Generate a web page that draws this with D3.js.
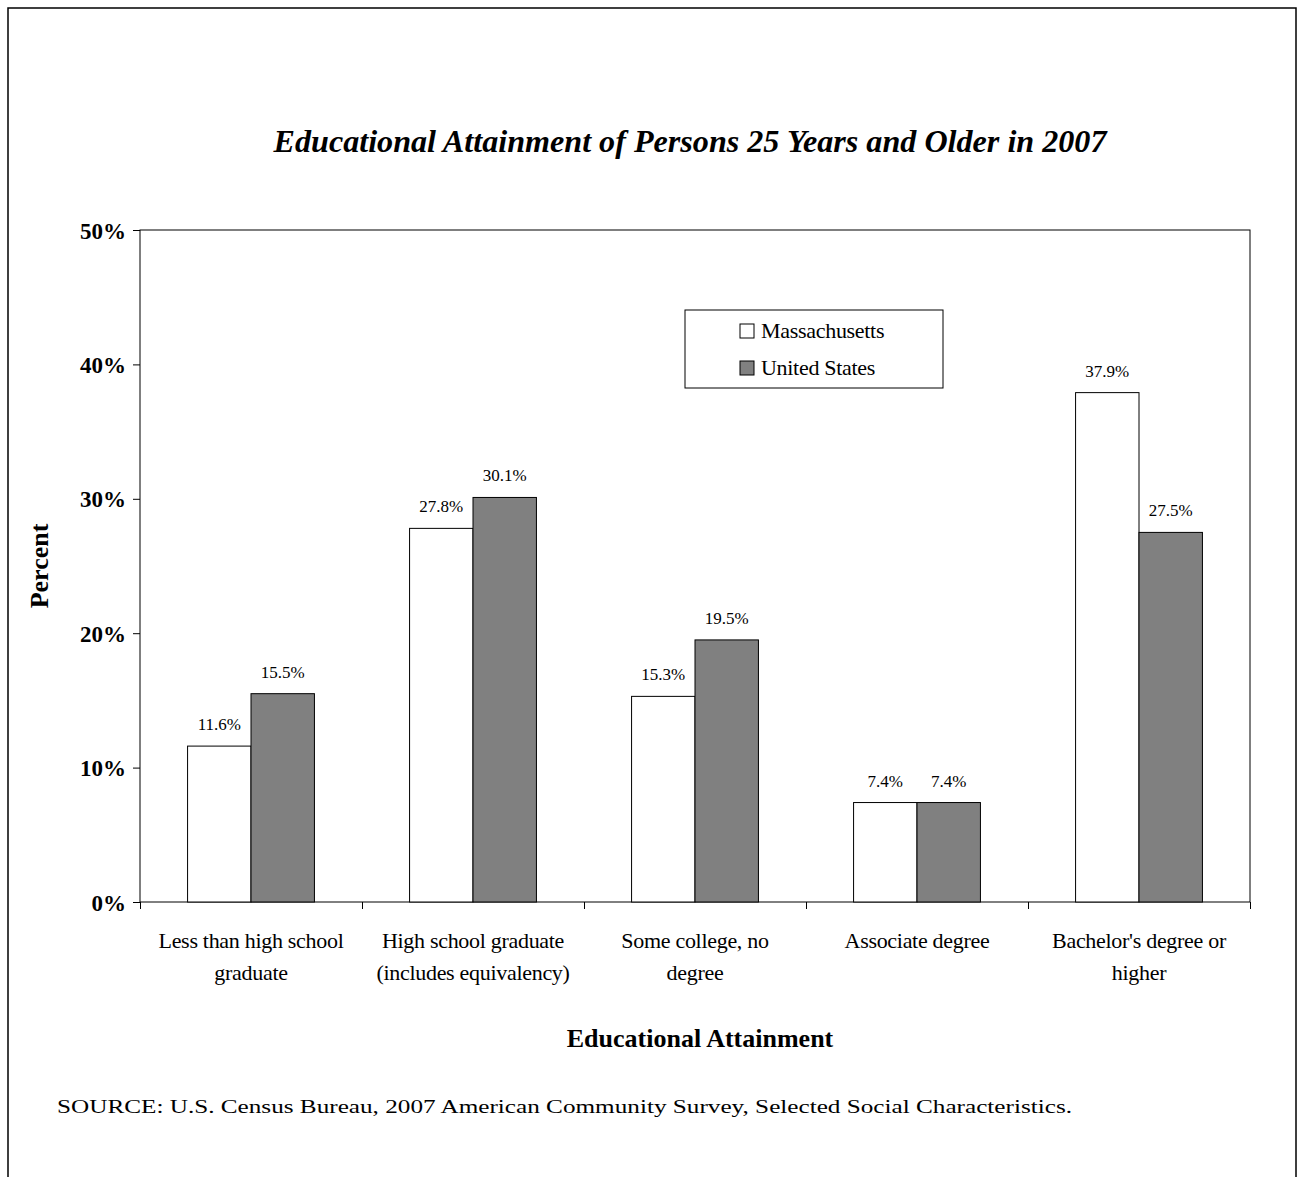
<!DOCTYPE html>
<html><head><meta charset="utf-8">
<script src="https://cdn.jsdelivr.net/npm/d3@7"></script>
<style>body{margin:0;background:#fff}svg{font-family:"Liberation Serif","Times New Roman",serif}</style>
</head><body><div id="chart"></div>
<script>
const categories = [
  ['Less than high school', 'graduate'],
  ['High school graduate', '(includes equivalency)'],
  ['Some college, no', 'degree'],
  ['Associate degree'],
  ["Bachelor's degree or", 'higher']
]
const seriesNames = ['Massachusetts', 'United States']
const massachusetts = [11.6, 27.8, 15.3, 7.4, 37.9]
const unitedStates = [15.5, 30.1, 19.5, 7.4, 27.5]
const yTicks = [0, 10, 20, 30, 40, 50]
const colors = ['#ffffff', '#808080']

const W = 1304, H = 1177
const margin = { top: 230, left: 140, right: 54, bottom: 275 }
const width = W - margin.left - margin.right
const height = H - margin.top - margin.bottom

const svg = d3.select('#chart').append('svg').attr('width', W).attr('height', H)
svg.append('path').attr('d', `M8,${H}V8H1296V${H}`).attr('fill', 'none').attr('stroke', '#000').attr('stroke-width', 1.5)

svg.append('text').attr('x', 690).attr('y', 152).attr('text-anchor', 'middle')
  .style('font-size', '32px').style('font-weight', 'bold').style('font-style', 'italic')
  .attr('textLength', 833).attr('lengthAdjust', 'spacingAndGlyphs')
  .text('Educational Attainment of Persons 25 Years and Older in 2007')

const g = svg.append('g').attr('transform', `translate(${margin.left},${margin.top})`)
const x = d3.scaleBand().domain(d3.range(categories.length)).range([0, width])
const xs = d3.scaleBand().domain([0, 1]).range([0, x.bandwidth()]).paddingOuter(0.75).paddingInner(0)
const y = d3.scaleLinear().domain([0, 50]).range([height, 0])

g.append('rect').attr('width', width).attr('height', height).attr('fill', 'none').attr('stroke', '#000')

const data = categories.map((c, i) => [massachusetts[i], unitedStates[i]])
const groups = g.selectAll('.grp').data(data).join('g').attr('transform', (d, i) => `translate(${x(i)},0)`)
groups.selectAll('rect').data(d => d).join('rect')
  .attr('x', (d, j) => xs(j)).attr('width', xs.bandwidth())
  .attr('y', d => y(d)).attr('height', d => height - y(d))
  .attr('fill', (d, j) => colors[j]).attr('stroke', '#000')
groups.selectAll('text').data(d => d).join('text')
  .attr('x', (d, j) => xs(j) + xs.bandwidth() / 2).attr('y', d => y(d) - 16)
  .attr('text-anchor', 'middle').style('font-size', '17px').text(d => d.toFixed(1) + '%')

const ya = g.append('g').call(d3.axisLeft(y).tickValues(yTicks).tickSize(7).tickFormat(d => d + '%'))
ya.attr('font-family', null)
ya.select('.domain').remove()
ya.selectAll('text').style('font-size', '23px').style('font-weight', 'bold').attr('dy', '0.35em').attr('x', -14)

const xa = g.append('g').attr('transform', `translate(0,${height})`)
  .call(d3.axisBottom(d3.scaleLinear().domain([0, 5]).range([0, width])).ticks(5).tickSize(7).tickFormat(''))
xa.select('.domain').remove()

categories.forEach((lines, i) => {
  const t = g.append('text').attr('x', x(i) + x.bandwidth() / 2).attr('y', height + 46)
    .attr('text-anchor', 'middle').style('font-size', '22px').style('letter-spacing', '-0.3px')
  lines.forEach((l, k) => t.append('tspan').attr('x', x(i) + x.bandwidth() / 2).attr('dy', k ? 32 : 0).text(l))
})

svg.append('text').attr('x', 700).attr('y', 1047).attr('text-anchor', 'middle')
  .style('font-size', '26px').style('font-weight', 'bold').text('Educational Attainment')
svg.append('text').attr('transform', 'translate(48,566) rotate(-90)').attr('text-anchor', 'middle')
  .style('font-size', '26px').style('font-weight', 'bold').text('Percent')

const lg = svg.append('g').attr('transform', 'translate(685,310)')
lg.append('rect').attr('width', 258).attr('height', 78).attr('fill', '#fff').attr('stroke', '#000')
seriesNames.forEach((n, i) => {
  lg.append('rect').attr('x', 55).attr('y', 14 + i * 37).attr('width', 14).attr('height', 14).attr('fill', colors[i]).attr('stroke', '#000')
  lg.append('text').attr('x', 76).attr('y', 28 + i * 37).style('font-size', '22px').style('letter-spacing', '-0.3px').text(n)
})

svg.append('text').attr('x', 57).attr('y', 1113).style('font-size', '18px')
  .attr('textLength', 1015).attr('lengthAdjust', 'spacingAndGlyphs')
  .text('SOURCE: U.S. Census Bureau, 2007 American Community Survey, Selected Social Characteristics.')
</script></body></html>
